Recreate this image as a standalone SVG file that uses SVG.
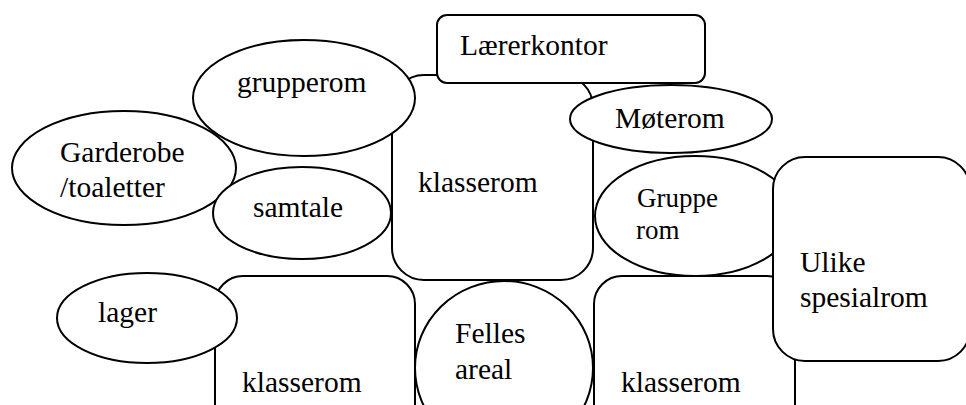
<svg xmlns="http://www.w3.org/2000/svg" width="966" height="405" viewBox="0 0 966 405">
<style>
.s{fill:#fff;stroke:#000;stroke-width:2}
.t{font-family:'Liberation Serif','Times New Roman',serif;font-size:29.5px;fill:#000}
.t2{font-family:'Liberation Serif','Times New Roman',serif;font-size:27px;fill:#000}
</style>
<rect width="966" height="405" fill="#fff"/>
<g id="klasserom-midt"><rect class="s" x="392" y="75" width="201" height="205" rx="32"/><text class="t" x="418" y="192">klasserom</text></g>
<g id="laererkontor"><rect class="s" x="437" y="15" width="268" height="68" rx="10"/><text class="t" x="460" y="55">Lærerkontor</text></g>
<g id="garderobe"><ellipse class="s" cx="124" cy="168" rx="112" ry="57"/><text class="t" x="60" y="162">Garderobe</text><text class="t" x="60" y="197">/toaletter</text></g>
<g id="grupperom"><ellipse class="s" cx="304" cy="98" rx="111" ry="58"/><text class="t" x="237" y="92">grupperom</text></g>
<g id="samtale"><ellipse class="s" cx="302" cy="213" rx="89" ry="46"/><text class="t" x="253" y="217">samtale</text></g>
<g id="moterom"><ellipse class="s" cx="671" cy="119" rx="101" ry="34"/><text class="t" x="615" y="128">Møterom</text></g>
<g id="grupperom2"><ellipse class="s" cx="695" cy="216" rx="100" ry="60"/><text class="t2" x="637" y="207">Gruppe</text><text class="t2" x="636" y="239">rom</text></g>
<g id="klasserom-venstre"><rect class="s" x="215" y="276" width="200" height="180" rx="28"/><text class="t" x="242" y="392">klasserom</text></g>
<g id="lager"><ellipse class="s" cx="147" cy="318" rx="90" ry="45"/><text class="t" x="98" y="322">lager</text></g>
<g id="felles-areal"><ellipse class="s" cx="504" cy="368" rx="89" ry="87"/><text class="t" x="455" y="343">Felles</text><text class="t" x="455" y="379">areal</text></g>
<g id="klasserom-hoyre"><rect class="s" x="594" y="276" width="201" height="180" rx="28"/><text class="t" x="621" y="392">klasserom</text></g>
<g id="ulike-spesialrom"><rect class="s" x="773" y="157" width="197" height="204" rx="32"/><text class="t" x="800" y="272">Ulike</text><text class="t" x="800" y="307">spesialrom</text></g>
<g id="connectors"></g>
</svg>
